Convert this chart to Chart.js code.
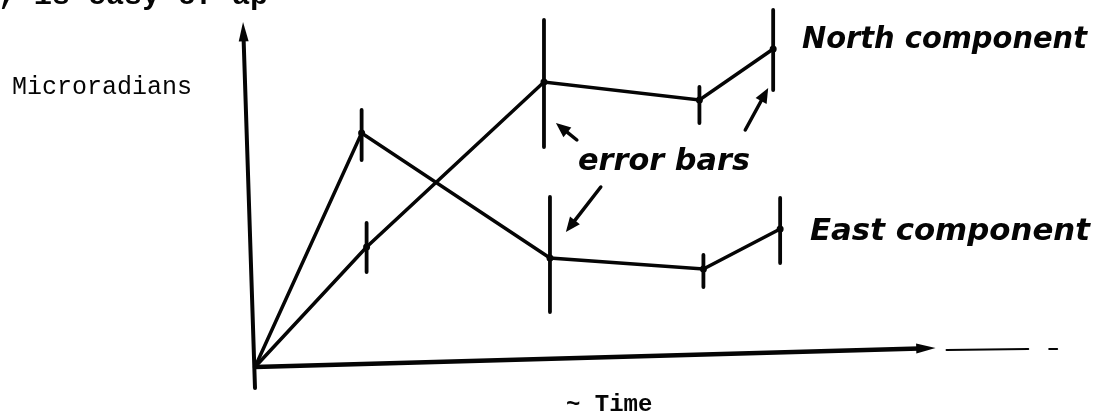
<!DOCTYPE html>
<html>
<head>
<meta charset="utf-8">
<title>Microradians</title>
<script src="https://cdn.jsdelivr.net/npm/chart.js@4/dist/chart.umd.min.js"></script>
<style>
  html, body { margin: 0; padding: 0; background: #fff; }
  canvas { display: block; }
</style>
</head>
<body>
<canvas id="tilt" width="1106" height="416"></canvas>
<script>
// Tilt readings, east and north components, with error bars (time in arbitrary units)
const eastTime = [0, 10.7, 29.6, 45.0, 52.7];
const eastValue = [0, 23.4, 10.9, 9.8, 13.8];
const eastLow = [null, 20.7, 5.5, 8.0, 10.4];
const eastHigh = [null, 25.7, 17.0, 11.2, 16.9];

const northTime = [0, 11.2, 29.0, 44.6, 52.0];
const northValue = [0, 12.0, 28.5, 26.7, 31.8];
const northLow = [null, 9.5, 22.0, 24.4, 27.7];
const northHigh = [null, 14.4, 34.7, 28.0, 35.7];

// hand-drawn axes, in data units
const yAxisLine = [[0, -2.1], [-1.2, 34.5]];
const xAxisLine = [[0, 0], [68.3, 1.9]];
const xAxisTrail = [[[69.4, 1.7], [77.6, 1.8]], [[79.7, 1.8], [80.5, 1.8]]];

// pointer arrows from the "error bars" note: [tail, head]
const notePointers = [
  [[32.3, 22.7], [30.2, 24.4]],
  [[34.7, 18.0], [31.2, 13.5]],
  [[49.2, 23.7], [51.5, 27.9]]
];

const INK = '#050505';

function toPoints(xs, ys) {
  return xs.map((x, i) => ({ x: x, y: ys[i] }));
}

function px(chart, p) {
  return [chart.scales.x.getPixelForValue(p[0]), chart.scales.y.getPixelForValue(p[1])];
}

function arrow(ctx, from, to, width, head, spread) {
  const ang = Math.atan2(to[1] - from[1], to[0] - from[0]);
  const s = spread || 0.3;
  ctx.lineWidth = width;
  ctx.beginPath();
  ctx.moveTo(from[0], from[1]);
  ctx.lineTo(to[0] - Math.cos(ang) * head * 0.8, to[1] - Math.sin(ang) * head * 0.8);
  ctx.stroke();
  ctx.beginPath();
  ctx.moveTo(to[0], to[1]);
  ctx.lineTo(to[0] - Math.cos(ang - s) * head, to[1] - Math.sin(ang - s) * head);
  ctx.lineTo(to[0] - Math.cos(ang + s) * head, to[1] - Math.sin(ang + s) * head);
  ctx.closePath();
  ctx.fill();
}

// text squeezed or stretched to a given width
function fitText(ctx, text, x, y, width, font) {
  ctx.font = font;
  const w = ctx.measureText(text).width;
  ctx.save();
  ctx.translate(x, y);
  ctx.scale(width / w, 1);
  ctx.fillText(text, 0, 0);
  ctx.restore();
}

const sketchAxes = {
  id: 'sketchAxes',
  beforeDatasetsDraw(chart) {
    const ctx = chart.ctx;
    ctx.save();
    ctx.strokeStyle = INK;
    ctx.fillStyle = INK;
    ctx.lineCap = 'round';
    arrow(ctx, px(chart, yAxisLine[0]), px(chart, yAxisLine[1]), 4, 20, 0.25);
    arrow(ctx, px(chart, xAxisLine[0]), px(chart, xAxisLine[1]), 4.5, 20, 0.25);
    ctx.lineWidth = 2;
    xAxisTrail.forEach(seg => {
      const a = px(chart, seg[0]);
      const b = px(chart, seg[1]);
      ctx.beginPath();
      ctx.moveTo(a[0], a[1]);
      ctx.lineTo(b[0], b[1]);
      ctx.stroke();
    });
    ctx.restore();
  }
};

const errorBars = {
  id: 'errorBars',
  afterDatasetsDraw(chart) {
    const ctx = chart.ctx;
    const sets = [[eastTime, eastLow, eastHigh], [northTime, northLow, northHigh]];
    ctx.save();
    ctx.strokeStyle = INK;
    ctx.lineWidth = 3.8;
    ctx.lineCap = 'round';
    sets.forEach(([t, lo, hi]) => {
      t.forEach((x, i) => {
        if (lo[i] === null) return;
        const a = px(chart, [x, lo[i]]);
        const b = px(chart, [x, hi[i]]);
        ctx.beginPath();
        ctx.moveTo(a[0], a[1]);
        ctx.lineTo(b[0], b[1]);
        ctx.stroke();
      });
    });
    ctx.restore();
  }
};

const notes = {
  id: 'notes',
  afterDraw(chart) {
    const ctx = chart.ctx;
    ctx.save();
    ctx.fillStyle = INK;
    ctx.strokeStyle = INK;
    ctx.lineCap = 'round';
    ctx.textBaseline = 'alphabetic';

    // typed text
    ctx.font = 'bold 30px "Liberation Mono"';
    ctx.fillText(', is easy of ap', -2, 4);
    ctx.font = '25px "Liberation Mono"';
    ctx.fillText('Microradians', 12, 94);
    ctx.font = 'bold 24px "Liberation Mono"';
    ctx.fillText('~ Time', 566, 411);

    // handwritten notes
    const hand = 'italic bold 30px "DejaVu Sans"';
    fitText(ctx, 'North component', 802, 48, 285, hand);
    fitText(ctx, 'East component', 810, 240, 280, hand);
    fitText(ctx, 'error bars', 578, 170, 172, hand);

    notePointers.forEach(p => arrow(ctx, px(chart, p[0]), px(chart, p[1]), 3.5, 16, 0.4));
    ctx.restore();
  }
};

const lineStyle = {
  borderColor: INK,
  backgroundColor: INK,
  borderWidth: 3.5,
  pointRadius: [0, 3.5, 3.5, 3.5, 3.5],
  pointBorderWidth: 0,
  showLine: true,
  tension: 0,
  clip: false
};

new Chart(document.getElementById('tilt'), {
  type: 'scatter',
  data: {
    datasets: [
      Object.assign({ label: 'East component', data: toPoints(eastTime, eastValue) }, lineStyle),
      Object.assign({ label: 'North component', data: toPoints(northTime, northValue) }, lineStyle)
    ]
  },
  options: {
    responsive: false,
    animation: false,
    layout: { padding: { left: 255, right: 1, top: 7, bottom: 49 } },
    scales: {
      x: { type: 'linear', min: 0, max: 85, display: false },
      y: { type: 'linear', min: 0, max: 36, display: false }
    },
    plugins: {
      legend: { display: false },
      tooltip: { enabled: false }
    }
  },
  plugins: [sketchAxes, errorBars, notes]
});
</script>
</body>
</html>
